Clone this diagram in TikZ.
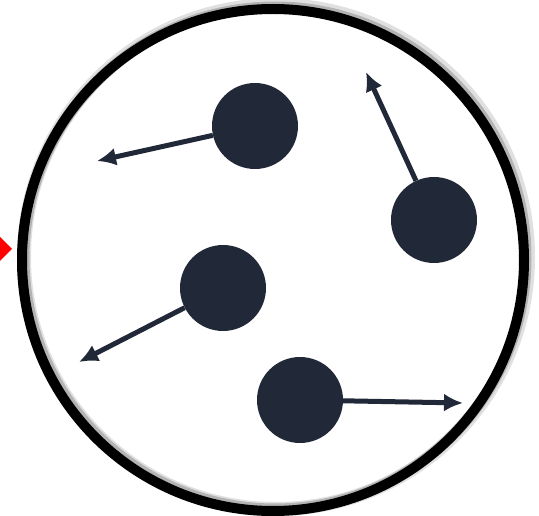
\documentclass[tikz,border=0pt]{standalone}
\usetikzlibrary{arrows.meta}
\definecolor{ink}{HTML}{212838}
\definecolor{signalred}{HTML}{FF0000}
\tikzset{>={Latex[length=19pt,width=18pt]},
  particle/.style={circle,fill=ink,minimum size=86pt,inner sep=0pt},
  velocity/.style={->,draw=ink,line width=5pt},
  wall/.style={draw=black,line width=10pt},
  wallshade/.style={draw=black,line width=14pt,opacity=.12}}
\begin{document}
\begin{tikzpicture}[x=1pt,y=-1pt]
\useasboundingbox (0,0) rectangle (539,516);
\clip (0,0) rectangle (539,516);
% container
\draw[wallshade] (276,257) circle (252);\draw[wallshade,line width=11pt,opacity=.2] (275,258) circle (251);
\draw[wall] (273,260) circle (251);
\fill[signalred] (12,249)--(0,237)--(-12,249)--(0,261)--cycle;
% particles and their velocities
\node[particle] (p1) at (255,126) {};\node[particle] (p2) at (434,220) {};
\node[particle] (p3) at (223,288) {};\node[particle] (p4) at (300,400) {};
\coordinate (v1) at (97,161);\coordinate (v2) at (366,72);
\coordinate (v3) at (79,362);\coordinate (v4) at (463,403);
\draw[velocity] (p1)--(v1);\draw[velocity] (p2)--(v2);
\draw[velocity] (p3)--(v3);\draw[velocity] (p4)--(v4);
\end{tikzpicture}
\end{document}
